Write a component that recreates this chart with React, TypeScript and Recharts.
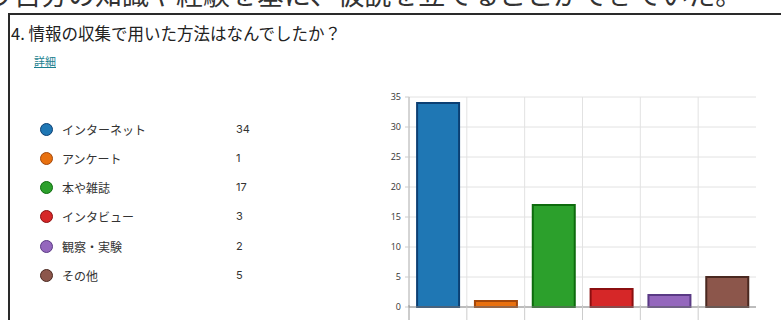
import React from "react";
import { BarChart, Bar, Cell, XAxis, YAxis, CartesianGrid } from "recharts";

const categories = ["インターネット", "アンケート", "本や雑誌", "インタビュー", "観察・実験", "その他"];
const counts = [34, 1, 17, 3, 2, 5];
const fills = ["#1f77b4", "#e8700f", "#2ca02c", "#d62728", "#9467bd", "#8c564b"];
const strokes = ["#0b3f73", "#a3470a", "#0d6b0d", "#8b0f10", "#5a3a85", "#4a2820"];
const yTicks = [0, 5, 10, 15, 20, 25, 30, 35];

const data = categories.map((name, i) => ({ name, count: counts[i] }));

const CHART_W = 410;
const CHART_H = 240;
const MARGIN = { top: 17, right: 14, bottom: 3, left: 0 };
const Y_W = 49;
const PLOT_W = CHART_W - MARGIN.left - MARGIN.right - Y_W;
const BAND = PLOT_W / categories.length;

const jp = '"Noto Sans CJK JP", "Noto Sans", sans-serif';

// tick marks sit on the band edges, not the band centres
function EdgeTick(props: any) {
  const { x, y, index } = props;
  const left = x - BAND / 2;
  return (
    <g>
      <line x1={left} y1={y - 10} x2={left} y2={y + 8} stroke={index === 0 ? "#999" : "#ccc"} />
      {index === categories.length - 1 && (
        <line x1={x + BAND / 2} y1={y - 10} x2={x + BAND / 2} y2={y - 10} stroke="#ccc" />
      )}
    </g>
  );
}

export default function App() {
  return (
    <div
      style={{
        position: "absolute",
        left: 0,
        top: 0,
        width: 781,
        height: 320,
        overflow: "hidden",
        background: "#fff",
        fontFamily: jp,
      }}
    >
      {/* line of body text above the screenshot, only its lower edge shows */}
      <svg width={781} height={20} style={{ position: "absolute", left: 0, top: 0 }}>
        <text x={-13} y={5} fontSize={27} fill="#333" fontFamily={jp}>
          り自分の知識や経験を基に、仮説を立てることができていた。
        </text>
      </svg>

      <div
        style={{
          position: "absolute",
          left: 8,
          top: 13,
          width: 820,
          height: 400,
          border: "2px solid #2a2a2a",
        }}
      />

      <div style={{ position: "absolute", left: 11, top: 25, fontSize: 16.5, lineHeight: "16.5px", color: "#222", whiteSpace: "nowrap" }}>
        4. 情報の収集で用いた方法はなんでしたか？
      </div>
      <div
        style={{
          position: "absolute",
          left: 34,
          top: 56,
          fontSize: 11,
          lineHeight: "11px",
          color: "#1a7f8f",
          textDecoration: "underline",
        }}
      >
        詳細
      </div>

      {categories.map((name, i) => {
        const cy = 129.5 + i * 29.3;
        return (
          <div key={name}>
            <div
              style={{
                position: "absolute",
                left: 40,
                top: cy - 7,
                width: 11,
                height: 11,
                borderRadius: "50%",
                background: fills[i],
                border: `1.5px solid ${strokes[i]}`,
              }}
            />
            <div style={{ position: "absolute", left: 62, top: cy - 7, fontSize: 12, lineHeight: "13px", color: "#333", whiteSpace: "nowrap" }}>
              {name}
            </div>
            <div style={{ position: "absolute", left: 236, top: cy - 7, fontSize: 11, lineHeight: "13px", color: "#333", fontFamily: "Inter, sans-serif" }}>
              {counts[i]}
            </div>
          </div>
        );
      })}

      <div style={{ position: "absolute", left: 360, top: 80 }}>
        <BarChart width={CHART_W} height={CHART_H} data={data} margin={MARGIN} barCategoryGap="14%">
          <CartesianGrid
            stroke="#e2e2e2"
            verticalCoordinatesGenerator={({ offset }: any) =>
              categories.slice(1).map((_, i) => offset.left + (i + 1) * BAND)
            }
          />
          <XAxis
            dataKey="name"
            height={10}
            axisLine={{ stroke: "#888" }}
            tickLine={false}
            tick={<EdgeTick />}
            interval={0}
          />
          <YAxis
            width={Y_W}
            domain={[0, 35]}
            ticks={yTicks}
            interval={0}
            axisLine={{ stroke: "#aaa" }}
            tickLine={{ stroke: "#ccc" }}
            tickSize={4}
            tickMargin={4}
            tick={{ fontSize: 9, fill: "#333", fontFamily: '"Open Sans", sans-serif' }}
          />
          <Bar dataKey="count" isAnimationActive={false} strokeWidth={2}>
            {data.map((d, i) => (
              <Cell key={d.name} fill={fills[i]} stroke={strokes[i]} />
            ))}
          </Bar>
        </BarChart>
      </div>
    </div>
  );
}
